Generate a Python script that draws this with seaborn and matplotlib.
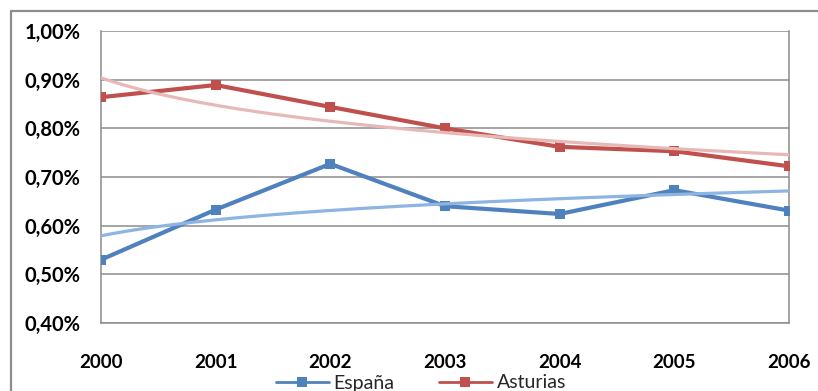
import numpy as np
import pandas as pd
import matplotlib
matplotlib.use("Agg")
import matplotlib.pyplot as plt
import seaborn as sns
from matplotlib.ticker import FuncFormatter, MultipleLocator
from matplotlib.lines import Line2D

# Share of each region, in percent
years = [2000, 2001, 2002, 2003, 2004, 2005, 2006]
espana = [0.530, 0.633, 0.727, 0.640, 0.624, 0.673, 0.631]
asturias = [0.864, 0.889, 0.844, 0.800, 0.762, 0.753, 0.722]
series_names = ["España", "Asturias"]

main_colors = {"España": "#4F81BD", "Asturias": "#C0504D"}
trend_colors = {"España": "#8DB4E2", "Asturias": "#E6B9B8"}

sns.set_theme(style="white")
plt.rcParams["font.family"] = ["Lato", "DejaVu Sans"]

df = pd.DataFrame({
    "Año": years * 2,
    "Valor": espana + asturias,
    "Serie": [series_names[0]] * len(years) + [series_names[1]] * len(years),
})

W, H = 818, 391
fig = plt.figure(figsize=(W / 100, H / 100), dpi=100)
ax = fig.add_axes([101 / W, 1 - 323 / H, 688 / W, 292 / H])

# Main series
sns.lineplot(data=df, x="Año", y="Valor", hue="Serie", palette=main_colors,
             marker="s", markersize=7, markeredgewidth=0, linewidth=3.0,
             legend=False, ax=ax, zorder=3)

# Logarithmic trend lines fitted on the series (x = 1..n)
idx = np.arange(1, len(years) + 1)
t = np.linspace(1, len(years), 200)
for name, vals in zip(series_names, [espana, asturias]):
    b, a = np.polyfit(np.log(idx), vals, 1)
    trend = pd.DataFrame({"Año": years[0] - 1 + t, "Valor": a + b * np.log(t)})
    sns.lineplot(data=trend, x="Año", y="Valor", color=trend_colors[name],
                 linewidth=2.3, ax=ax, zorder=4, legend=False)

ax.set_xlim(years[0], years[-1])
ax.set_ylim(0.40, 1.00)
ax.yaxis.set_major_locator(MultipleLocator(0.10))
ax.yaxis.set_major_formatter(FuncFormatter(lambda v, p: f"{v:.2f}%".replace(".", ",")))
ax.set_xticks(years)
ax.set_xticklabels([str(y) for y in years])
ax.set_xlabel("")
ax.set_ylabel("")

grid_c = "#8C8C8C"
ax.grid(axis="y", color=grid_c, linewidth=1.1)
ax.grid(axis="x", visible=False)
for side in ["left", "right", "bottom"]:
    ax.spines[side].set_color(grid_c)
    ax.spines[side].set_linewidth(1.1)
ax.spines["top"].set_visible(False)

ax.tick_params(axis="both", which="major", length=4.3, width=1.1, color=grid_c,
               labelcolor="black")
ax.tick_params(axis="x", direction="out", pad=18, labelsize=13.5)
ax.tick_params(axis="y", direction="out", pad=10.5, labelsize=14.5)
for lab in ax.get_xticklabels() + ax.get_yticklabels():
    lab.set_fontweight("bold")

# Legend along the bottom edge
handles = [Line2D([], [], color=main_colors[n], marker="s", markersize=7,
                  markeredgewidth=0, linewidth=2.0) for n in series_names]
fig.legend(handles, series_names, loc="center", bbox_to_anchor=(421 / W, 1 - 383 / H),
           ncol=2, frameon=False, fontsize=14, handlelength=2.7, handletextpad=0.25,
           columnspacing=2.3, borderpad=0)

# Chart area border (left and top edges)
fig.add_artist(Line2D([10.5 / W, 10.5 / W], [0, 1 - 10.5 / H], color="#8C8C8C",
                      linewidth=1.6, transform=fig.transFigure))
fig.add_artist(Line2D([10.5 / W, 1], [1 - 10.5 / H, 1 - 10.5 / H], color="#8C8C8C",
                      linewidth=1.6, transform=fig.transFigure))

fig.savefig("out.png", dpi=100)
